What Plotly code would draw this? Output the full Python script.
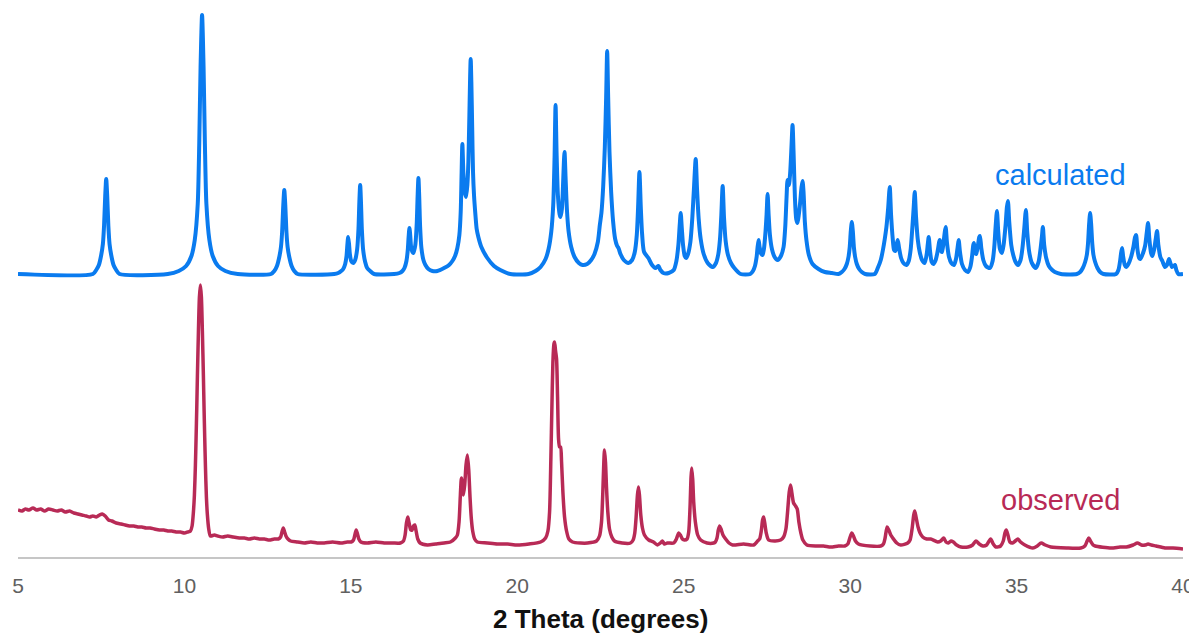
import plotly.graph_objects as go

# ---- data (2-theta in degrees, intensity in arbitrary units) ----
# Calculated pattern (drawn with a vertical offset so it sits above the observed one)
calculated_pattern = [
    (5.00, 283), (7.25, 283),
    (7.35, 287), (7.43, 292), (7.50, 302), (7.55, 313), (7.585, 331), (7.62, 361), (7.65, 378),
    (7.68, 361), (7.715, 331), (7.75, 313), (7.80, 302), (7.87, 292), (7.95, 287), (8.05, 283),
    (9.50, 283), (9.83, 286), (10.05, 291), (10.21, 301), (10.31, 317), (10.40, 353), (10.445, 413),
    (10.485, 490), (10.53, 542), (10.575, 490), (10.615, 413), (10.66, 353), (10.75, 317), (10.85, 301),
    (11.01, 291), (11.23, 286), (11.60, 283),
    (12.60, 283), (12.70, 286), (12.78, 291), (12.85, 300), (12.90, 310), (12.935, 325), (12.97, 352),
    (13.00, 367), (13.03, 352), (13.065, 325), (13.10, 310), (13.15, 300), (13.22, 291), (13.30, 286),
    (13.40, 283),
    (14.50, 283), (14.62, 284), (14.71, 286), (14.77, 288), (14.83, 293), (14.87, 301), (14.895, 312),
    (14.92, 320), (14.945, 313), (14.97, 303), (15.01, 296), (15.07, 294), (15.13, 297), (15.19, 308),
    (15.23, 329), (15.255, 355), (15.28, 372), (15.305, 354), (15.33, 328), (15.37, 307), (15.43, 295),
    (15.49, 289), (15.58, 286), (15.70, 283),
    (16.30, 283), (16.46, 284), (16.55, 286), (16.61, 289), (16.67, 296), (16.71, 307), (16.735, 320),
    (16.76, 329), (16.785, 321), (16.81, 310), (16.85, 305), (16.88, 304), (16.92, 309), (16.94, 313),
    (16.98, 334), (17.005, 360), (17.03, 379), (17.055, 359), (17.08, 331), (17.12, 309), (17.18, 297),
    (17.24, 292), (17.33, 288), (17.45, 286), (17.60, 286), (17.80, 289), (17.95, 292), (18.05, 296),
    (18.13, 301), (18.20, 309), (18.26, 322), (18.30, 345), (18.325, 380), (18.35, 413), (18.38, 385),
    (18.42, 365), (18.46, 360), (18.50, 372), (18.53, 395), (18.56, 440), (18.58, 475), (18.60, 498),
    (18.62, 475), (18.645, 430), (18.67, 385), (18.70, 362), (18.74, 343), (18.78, 328), (18.83, 320),
    (18.92, 310), (19.10, 299), (19.30, 291), (19.49, 287), (19.79, 283),
    (20.34, 283), (20.55, 286), (20.70, 290), (20.85, 298), (20.94, 308), (21.02, 325), (21.08, 352),
    (21.12, 400), (21.15, 452), (21.18, 405), (21.22, 362), (21.27, 343), (21.30, 340), (21.34, 348),
    (21.37, 368), (21.40, 395), (21.42, 405), (21.45, 380), (21.49, 348), (21.54, 326), (21.62, 310),
    (21.72, 300), (21.85, 294), (21.96, 292), (22.10, 293), (22.22, 297), (22.32, 303), (22.42, 315),
    (22.48, 332), (22.53, 345), (22.58, 370), (22.63, 410), (22.67, 460), (22.70, 506), (22.73, 460),
    (22.77, 405), (22.82, 365), (22.88, 335), (22.94, 318), (23.00, 311), (23.04, 309), (23.10, 303),
    (23.20, 297), (23.34, 294), (23.45, 297), (23.53, 305), (23.59, 322), (23.63, 350), (23.67, 385),
    (23.71, 350), (23.75, 323), (23.81, 305), (23.94, 299), (24.05, 292), (24.15, 289), (24.24, 291),
    (24.30, 287), (24.39, 284), (24.55, 284), (24.70, 287), (24.78, 296), (24.84, 312), (24.88, 332),
    (24.91, 344), (24.94, 330), (24.98, 312), (25.03, 301), (25.07, 299), (25.13, 303), (25.20, 315),
    (25.26, 340), (25.31, 370), (25.36, 398), (25.40, 368), (25.45, 338), (25.51, 318), (25.60, 303),
    (25.72, 294), (25.87, 290), (25.97, 294), (26.04, 303), (26.09, 318), (26.13, 342), (26.17, 371),
    (26.21, 340), (26.26, 316), (26.33, 302), (26.42, 294), (26.52, 289), (26.71, 283),
    (27.00, 283), (27.08, 286), (27.14, 291), (27.19, 300), (27.22, 310), (27.25, 317), (27.28, 310),
    (27.33, 303), (27.37, 302), (27.41, 308), (27.45, 322), (27.49, 343), (27.52, 363), (27.55, 343),
    (27.59, 322), (27.65, 308), (27.73, 300), (27.82, 297), (27.92, 301), (28.00, 310), (28.05, 330),
    (28.09, 360), (28.12, 377), (28.16, 372), (28.20, 385), (28.24, 412), (28.27, 432), (28.30, 405),
    (28.34, 360), (28.38, 338), (28.42, 334), (28.46, 343), (28.50, 355), (28.54, 370), (28.57, 376),
    (28.60, 365), (28.64, 335), (28.69, 316), (28.76, 302), (28.87, 293), (29.05, 288), (29.24, 285),
    (29.45, 284), (29.65, 283),
    (29.75, 285), (29.83, 288), (29.90, 293), (29.95, 300), (29.985, 309), (30.02, 326), (30.05, 335),
    (30.08, 326), (30.115, 309), (30.15, 300), (30.20, 293), (30.27, 288), (30.35, 285), (30.45, 283),
    (30.74, 283), (30.83, 289), (30.92, 297), (30.99, 308), (31.04, 318), (31.09, 330), (31.14, 348),
    (31.19, 370), (31.23, 342), (31.28, 318), (31.32, 307), (31.36, 306), (31.40, 313), (31.43, 317),
    (31.47, 309), (31.53, 299), (31.60, 294), (31.69, 292), (31.76, 296), (31.82, 308), (31.87, 330),
    (31.91, 350), (31.94, 365), (31.98, 340), (32.03, 318), (32.09, 305), (32.16, 297), (32.24, 294),
    (32.30, 303), (32.33, 312), (32.36, 320), (32.40, 306), (32.45, 295), (32.50, 293), (32.57, 297),
    (32.63, 306), (32.69, 317), (32.73, 306), (32.76, 305), (32.80, 313), (32.84, 324), (32.87, 330),
    (32.91, 314), (32.97, 300), (33.04, 294), (33.12, 292), (33.18, 298), (33.23, 310), (33.26, 317),
    (33.30, 305), (33.36, 293), (33.45, 287), (33.54, 285), (33.61, 290), (33.66, 300), (33.70, 312),
    (33.72, 314), (33.76, 304), (33.79, 303), (33.84, 312), (33.88, 320), (33.90, 321), (33.94, 309),
    (34.00, 297), (34.08, 291), (34.20, 289), (34.28, 296), (34.33, 310), (34.37, 330), (34.41, 346),
    (34.45, 325), (34.50, 308), (34.56, 304), (34.61, 312), (34.67, 332), (34.71, 350), (34.74, 356),
    (34.78, 335), (34.84, 312), (34.90, 302), (34.97, 295), (35.04, 292), (35.12, 297), (35.18, 310),
    (35.23, 328), (35.28, 347), (35.32, 325), (35.38, 305), (35.46, 294), (35.58, 289), (35.66, 295),
    (35.72, 308), (35.76, 320), (35.79, 330), (35.83, 312), (35.89, 299), (35.97, 291), (36.07, 287),
    (36.15, 285), (36.33, 283),
    (36.81, 283), (36.91, 285), (36.99, 289), (37.06, 295), (37.11, 302), (37.145, 313), (37.18, 333),
    (37.21, 344), (37.24, 333), (37.275, 313), (37.31, 302), (37.36, 295), (37.43, 289), (37.51, 285),
    (37.61, 283),
    (37.99, 283), (38.06, 287), (38.11, 296), (38.14, 304), (38.17, 309), (38.20, 301), (38.25, 292),
    (38.29, 290), (38.36, 293), (38.44, 300), (38.51, 310), (38.56, 320), (38.59, 322), (38.63, 308),
    (38.68, 299), (38.72, 298), (38.80, 304), (38.86, 311), (38.91, 324), (38.95, 334), (38.99, 318),
    (39.04, 304), (39.08, 301), (39.13, 307), (39.18, 318), (39.22, 326), (39.26, 312), (39.32, 300),
    (39.38, 296), (39.46, 290), (39.52, 292), (39.58, 298), (39.62, 294), (39.67, 290), (39.72, 291),
    (39.76, 292), (39.80, 287), (39.86, 283), (40.00, 283),
]

# Observed pattern
observed_pattern = [
    (5.00, 47), (5.12, 46), (5.22, 48), (5.33, 47), (5.45, 49), (5.56, 47), (5.68, 48), (5.80, 46),
    (5.92, 48), (6.05, 47), (6.18, 46), (6.30, 47), (6.42, 45), (6.55, 46), (6.68, 44), (6.80, 43),
    (6.92, 42), (7.05, 41), (7.15, 40), (7.25, 41), (7.35, 40), (7.45, 42), (7.53, 43), (7.62, 41),
    (7.72, 37), (7.82, 36), (7.95, 34), (8.10, 33), (8.22, 32), (8.35, 31), (8.48, 31), (8.60, 30),
    (8.72, 30), (8.85, 29), (8.97, 29), (9.10, 28), (9.25, 27), (9.38, 27), (9.50, 26), (9.62, 26),
    (9.75, 25), (9.88, 25), (10.00, 24), (10.10, 25),
    (10.18, 26), (10.23, 31), (10.27, 45), (10.30, 62), (10.33, 92), (10.35, 119), (10.37, 148),
    (10.39, 181), (10.42, 225), (10.45, 260), (10.48, 272), (10.51, 260), (10.54, 225), (10.57, 181),
    (10.59, 148), (10.61, 119), (10.63, 92), (10.66, 60), (10.69, 42), (10.73, 28), (10.78, 21),
    (10.90, 22), (11.00, 21), (11.15, 20), (11.30, 21), (11.47, 20), (11.65, 19), (11.80, 19),
    (11.95, 18), (12.10, 19), (12.25, 18), (12.40, 18), (12.55, 17), (12.70, 18), (12.82, 18),
    (12.89, 20), (12.93, 25), (12.97, 29), (13.01, 25), (13.05, 21), (13.11, 18), (13.19, 16),
    (13.40, 15), (13.60, 14), (13.80, 15), (13.99, 14), (14.20, 14), (14.45, 15), (14.70, 14),
    (14.89, 15), (15.01, 15), (15.08, 17), (15.12, 22), (15.16, 27), (15.20, 23), (15.24, 18),
    (15.30, 15), (15.49, 14), (15.75, 15), (16.00, 14), (16.25, 14), (16.49, 14),
    (16.58, 16), (16.63, 22), (16.67, 34), (16.71, 40), (16.75, 34), (16.80, 27), (16.84, 27),
    (16.88, 31), (16.92, 32), (16.96, 26), (17.01, 18), (17.08, 14), (17.30, 12), (17.55, 13),
    (17.80, 14), (17.99, 15), (18.14, 19),
    (18.20, 22), (18.25, 35), (18.29, 62), (18.32, 79), (18.35, 70), (18.38, 62), (18.42, 72),
    (18.46, 92), (18.50, 102), (18.54, 88), (18.58, 60), (18.62, 38), (18.66, 26), (18.72, 18),
    (18.80, 15), (19.10, 14), (19.40, 13), (19.70, 13), (20.00, 12), (20.35, 13), (20.70, 15),
    (20.85, 19), (20.92, 26), (20.97, 45), (21.01, 100), (21.04, 150), (21.07, 195), (21.10, 213),
    (21.12, 215), (21.15, 206), (21.18, 198), (21.21, 160), (21.24, 118), (21.27, 110), (21.30, 110),
    (21.33, 95), (21.37, 65), (21.42, 40), (21.48, 26), (21.55, 18), (21.66, 15), (21.90, 14),
    (22.11, 14), (22.38, 16), (22.47, 21), (22.53, 35), (22.57, 65), (22.60, 95), (22.62, 107),
    (22.65, 95), (22.68, 70), (22.72, 45), (22.77, 28), (22.84, 20), (22.92, 16), (23.15, 14),
    (23.40, 14), (23.48, 17), (23.53, 24), (23.57, 40), (23.61, 62), (23.64, 70), (23.67, 62),
    (23.71, 42), (23.76, 29), (23.82, 22), (23.95, 17), (24.09, 15), (24.21, 12), (24.30, 14),
    (24.36, 16), (24.42, 13), (24.51, 14), (24.70, 14), (24.78, 18), (24.85, 24), (24.90, 22),
    (24.96, 18), (25.02, 17), (25.10, 18), (25.15, 25), (25.19, 50), (25.22, 80), (25.24, 89),
    (25.27, 78), (25.30, 55), (25.35, 35), (25.42, 22), (25.51, 17), (25.70, 14), (25.90, 14),
    (25.95, 15), (26.00, 19), (26.04, 27), (26.08, 31), (26.12, 28), (26.18, 22), (26.26, 18),
    (26.36, 14), (26.47, 12), (26.80, 13), (27.10, 12), (27.22, 16), (27.28, 18), (27.33, 26),
    (27.37, 37), (27.40, 40), (27.43, 35), (27.48, 24), (27.55, 17), (27.75, 16), (27.91, 17),
    (28.00, 20), (28.07, 28), (28.12, 45), (28.17, 65), (28.21, 72), (28.25, 64), (28.30, 54),
    (28.36, 51), (28.41, 48), (28.46, 35), (28.52, 24), (28.58, 17), (28.70, 12), (29.00, 11),
    (29.20, 11), (29.42, 10), (29.65, 11), (29.84, 11), (29.93, 13), (29.99, 19), (30.05, 24),
    (30.10, 21), (30.16, 16), (30.25, 13), (30.60, 11), (30.92, 11), (31.00, 13), (31.05, 19),
    (31.11, 30), (31.16, 27), (31.22, 22), (31.28, 19), (31.40, 14), (31.52, 12), (31.73, 14),
    (31.80, 17), (31.86, 28), (31.91, 42), (31.94, 46), (31.98, 40), (32.04, 30), (32.10, 24),
    (32.18, 20), (32.30, 18), (32.42, 18), (32.63, 15), (32.72, 16), (32.81, 19), (32.88, 15),
    (32.95, 14), (33.03, 16), (33.10, 15), (33.20, 12), (33.33, 10), (33.54, 10), (33.68, 12),
    (33.78, 16), (33.88, 13), (33.99, 11), (34.10, 12), (34.22, 18), (34.30, 13), (34.38, 10),
    (34.52, 11), (34.60, 16), (34.65, 24), (34.69, 27), (34.74, 22), (34.80, 15), (34.88, 14),
    (34.96, 16), (35.04, 18), (35.12, 15), (35.25, 12), (35.49, 9), (35.62, 11), (35.74, 14),
    (35.86, 12), (36.03, 10), (36.50, 9), (36.93, 9), (37.05, 11), (37.12, 16), (37.17, 19),
    (37.22, 16), (37.30, 12), (37.36, 11), (37.84, 9), (38.11, 10), (38.30, 10), (38.50, 12),
    (38.63, 14), (38.75, 12), (38.86, 12), (38.95, 13), (39.05, 12), (39.19, 11), (39.46, 9),
    (39.70, 9), (40.00, 8),
]

x_ticks = [5, 10, 15, 20, 25, 30, 35, 40]
x_tick_labels = ["5", "10", "15", "20", "25", "30", "35", "40"]
series_labels = ["calculated", "observed"]

BLUE = "#0a7bef"
RED = "#b82a56"
FONT = "Liberation Sans, Arial, sans-serif"

fig = go.Figure()
fig.add_trace(go.Scatter(
    x=[p[0] for p in observed_pattern], y=[p[1] for p in observed_pattern],
    mode="lines", line=dict(color=RED, width=3.5, shape="spline", smoothing=0.7),
    name=series_labels[1], hoverinfo="skip",
))
fig.add_trace(go.Scatter(
    x=[p[0] for p in calculated_pattern], y=[p[1] for p in calculated_pattern],
    mode="lines", line=dict(color=BLUE, width=4, shape="spline", smoothing=0.7),
    name=series_labels[0], hoverinfo="skip",
))

# page body has an 8px margin: the plot area spans page x 18..1183 and page y 8..557
fig.update_layout(
    width=1189, height=627,
    margin=dict(l=10, r=14, t=0, b=78),
    paper_bgcolor="white", plot_bgcolor="white",
    showlegend=False,
    font=dict(family=FONT),
    xaxis=dict(
        range=[5, 40], tickmode="array", tickvals=x_ticks, ticktext=x_tick_labels,
        showgrid=False, zeroline=False, showline=True, linecolor="#c6c6c6", linewidth=2,
        ticks="", tickfont=dict(size=21, color="#606060", family=FONT),
        ticklabelstandoff=9,
    ),
    yaxis=dict(range=[0, 549], visible=False, showgrid=False, zeroline=False),
    annotations=[
        dict(x=36.33, y=382, xref="x", yref="y", text=series_labels[0], showarrow=False,
             font=dict(size=29, color=BLUE, family=FONT), xanchor="center", yanchor="middle"),
        dict(x=36.33, y=57, xref="x", yref="y", text=series_labels[1], showarrow=False,
             font=dict(size=29, color=RED, family=FONT), xanchor="center", yanchor="middle"),
        dict(x=0.5, y=-62 / 549, xref="paper", yref="paper", text="<b>2 Theta (degrees)</b>",
             showarrow=False, font=dict(size=26, color="#111111", family=FONT),
             xanchor="center", yanchor="middle"),
    ],
)

fig.write_html("out.html")
